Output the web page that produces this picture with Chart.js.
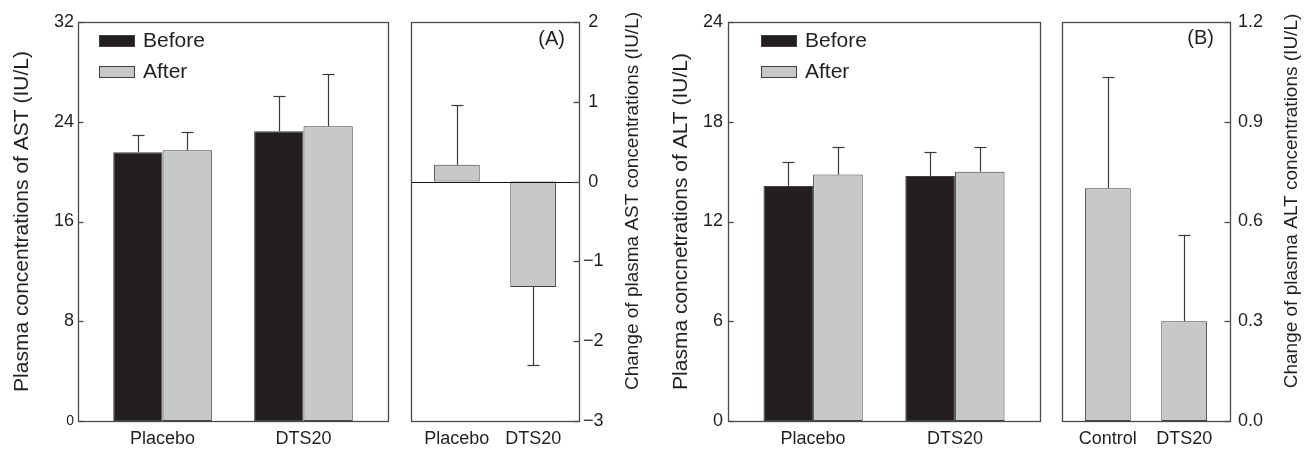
<!DOCTYPE html>
<html><head><meta charset="utf-8">
<script src="https://cdn.jsdelivr.net/npm/chart.js@4.4.1/dist/chart.umd.min.js"></script>
<style>
html,body{margin:0;padding:0;background:#fff;}
#wrap{position:relative;width:1305px;height:449px;overflow:hidden;background:#fff;}
canvas{position:absolute;top:0;}
</style></head><body>
<div id="wrap">
<canvas id="c1" width="395" height="449" style="left:0px;width:395px;height:449px"></canvas>
<canvas id="c2" width="255" height="449" style="left:395px;width:255px;height:449px"></canvas>
<canvas id="c3" width="395" height="449" style="left:650px;width:395px;height:449px"></canvas>
<canvas id="c4" width="260" height="449" style="left:1045px;width:260px;height:449px"></canvas>
</div>
<script>
// ---------- DATA ----------
const astCategories = ['Placebo', 'DTS20'];
const astBefore = [21.55, 23.23];
const astBeforeErr = [1.39, 2.84];
const astAfter = [21.71, 23.63];
const astAfterErr = [1.47, 4.23];
const astTicks = [0, 8, 16, 24, 32];

const astChangeCategories = ['Placebo', 'DTS20'];
const astChange = [0.21, -1.32];
const astChangeErr = [0.75, 0.98];
const astChangeTicks = [-3, -2, -1, 0, 1, 2];

const altCategories = ['Placebo', 'DTS20'];
const altBefore = [14.14, 14.74];
const altBeforeErr = [1.44, 1.46];
const altAfter = [14.82, 15.0];
const altAfterErr = [1.66, 1.5];
const altTicks = [0, 6, 12, 18, 24];

const altChangeCategories = ['Control', 'DTS20'];
const altChange = [0.70, 0.30];
const altChangeErr = [0.335, 0.26];
const altChangeTicks = [0, 0.3, 0.6, 0.9, 1.2];

const seriesNames = ['Before', 'After'];

// ---------- STYLE ----------
const FONT = "'Liberation Sans', Arial, Helvetica, sans-serif";
const TEXT = '#231f20';
const FRAME = '#4a4a4a';
const BEFORE_FILL = '#231f20';
const AFTER_FILL = '#c7c8ca';
const BAR_EDGE = '#404040';

// ---------- PLUGINS ----------
const panelPlugin = {
  id: 'panel',
  afterDatasetsDraw(chart, args, o) {
    const ctx = chart.ctx;
    const a = chart.chartArea;
    const ys = chart.scales.y;
    ctx.save();
    // zero line
    if (o.zeroLine) {
      const y0 = Math.round(ys.getPixelForValue(0)) + 0.5;
      ctx.strokeStyle = '#111';
      ctx.lineWidth = 1;
      ctx.beginPath(); ctx.moveTo(a.left, y0); ctx.lineTo(a.right, y0); ctx.stroke();
    }
    // error bars (one-sided, away from zero)
    chart.data.datasets.forEach((ds, i) => {
      if (!ds.errors) return;
      const meta = chart.getDatasetMeta(i);
      meta.data.forEach((el, j) => {
        const v = ds.data[j].y;
        const e = ds.errors[j];
        const end = v >= 0 ? v + e : v - e;
        const yA = ys.getPixelForValue(v);
        const yB = Math.round(ys.getPixelForValue(end)) + 0.5;
        const x = Math.round(el.x) + 0.5;
        ctx.strokeStyle = '#3a3a3a';
        ctx.lineWidth = 1.2;
        ctx.beginPath(); ctx.moveTo(x, yA); ctx.lineTo(x, yB); ctx.stroke();
        ctx.beginPath(); ctx.moveTo(x - 6, yB); ctx.lineTo(x + 6, yB); ctx.stroke();
      });
    });
    // frame
    ctx.strokeStyle = FRAME;
    ctx.lineWidth = 1.3;
    ctx.strokeRect(Math.round(a.left) + 0.5, Math.round(a.top) + 0.5, Math.round(a.right - a.left), Math.round(a.bottom - a.top));
    // inward ticks on value axis
    const right = ys.options.position === 'right';
    const ax = right ? Math.round(a.right) + 0.5 : Math.round(a.left) + 0.5;
    const len = o.tickLen || 5;
    ys.ticks.forEach(t => {
      const y = Math.round(ys.getPixelForValue(t.value)) + 0.5;
      ctx.beginPath();
      ctx.moveTo(ax, y);
      ctx.lineTo(right ? ax - len : ax + len, y);
      ctx.stroke();
    });
    // in-plot legend
    if (o.legend) {
      const L = o.legend;
      chart.data.datasets.forEach((ds, i) => {
        const bx = a.left + L.dx;
        const by = L.top + i * L.gap;
        ctx.fillStyle = ds.backgroundColor;
        ctx.fillRect(bx, by, 36, 12);
        ctx.strokeStyle = BAR_EDGE;
        ctx.lineWidth = 1;
        ctx.strokeRect(bx + 0.5, by + 0.5, 35, 11);
        ctx.fillStyle = TEXT;
        ctx.font = '21px ' + FONT;
        ctx.textAlign = 'left';
        ctx.textBaseline = 'middle';
        ctx.fillText(ds.label, bx + 44, by + 6);
      });
    }
    // panel tag
    if (o.tag) {
      ctx.fillStyle = TEXT;
      ctx.font = '20px ' + FONT;
      ctx.textAlign = 'right';
      ctx.textBaseline = 'middle';
      ctx.fillText(o.tag.text, a.right - o.tag.dx, o.tag.y);
    }
    // right-side axis title (reads bottom to top)
    if (o.rightTitle) {
      const R = o.rightTitle;
      ctx.save();
      ctx.translate(a.right + R.dx, R.cy);
      ctx.rotate(-Math.PI / 2);
      ctx.fillStyle = TEXT;
      ctx.font = R.size + 'px ' + FONT;
      ctx.textAlign = 'center';
      ctx.textBaseline = 'middle';
      ctx.fillText(R.text, 0, 0);
      ctx.restore();
    }
    ctx.restore();
  }
};

function toXY(vals) { return vals.map((v, i) => ({ x: i, y: v })); }

function makeChart(id, cfg) {
  const cats = cfg.categories;
  const yScale = {
    position: cfg.yPos,
    min: cfg.yTicks[0],
    max: cfg.yTicks[cfg.yTicks.length - 1],
    grid: { display: false, drawTicks: false, tickLength: 0 },
    border: { display: false },
    afterBuildTicks: s => { s.ticks = cfg.yTicks.map(v => ({ value: v })); },
    afterFit: s => { s.width = cfg.yWidth; },
    ticks: {
      color: TEXT,
      padding: cfg.yPad,
      crossAlign: cfg.crossAlign || 'near',
      font: cfg.yFont || { family: FONT, size: 18 },
      callback: cfg.yFmt
    },
    title: cfg.yTitle ? {
      display: true, text: cfg.yTitle, color: TEXT,
      font: { family: FONT, size: 21 },
      padding: { top: cfg.yTitlePad, bottom: 0 }
    } : { display: false }
  };
  return new Chart(document.getElementById(id), {
    type: 'bar',
    data: { datasets: cfg.datasets },
    options: {
      responsive: false,
      animation: false,
      events: [],
      layout: { padding: cfg.padding },
      plugins: { legend: { display: false }, tooltip: { enabled: false }, panel: cfg.panel },
      scales: {
        x: {
          type: 'linear', offset: false, min: -0.6, max: 1.6,
          grid: { display: false, drawTicks: false, tickLength: 0 }, border: { display: false },
          afterBuildTicks: s => { s.ticks = cats.map((c, i) => ({ value: i })); },
          afterFit: s => { s.height = 28; },
          ticks: { color: TEXT, padding: 7, autoSkip: false, maxRotation: 0,
                   font: { family: FONT, size: 18 }, callback: v => cats[v] }
        },
        y: yScale
      }
    },
    plugins: [panelPlugin]
  });
}

function barDs(label, vals, errs, fill, cp) {
  return { label, data: toXY(vals), errors: errs, backgroundColor: fill,
           borderColor: BAR_EDGE, borderWidth: 1, borderSkipped: false,
           categoryPercentage: cp, barPercentage: 1.0 };
}

// Panel 1: AST
makeChart('c1', {
  categories: astCategories,
  datasets: [barDs(seriesNames[0], astBefore, astBeforeErr, BEFORE_FILL, 0.70),
             barDs(seriesNames[1], astAfter, astAfterErr, AFTER_FILL, 0.70)],
  yTicks: astTicks, yPos: 'left', yWidth: 78, yPad: 4,
  yFont: c => ({ family: FONT, size: (c.tick && c.tick.value === 0) ? 14 : 18 }),
  yFmt: v => String(v),
  yTitle: 'Plasma concentrations of AST (IU/L)', yTitlePad: 10,
  padding: { left: 0, right: 7, top: 22, bottom: 0 },
  panel: { tickLen: 5, legend: { dx: 21, top: 35, gap: 31 } }
});

// Panel 2: change of AST
makeChart('c2', {
  categories: astChangeCategories,
  datasets: [barDs('Change', astChange, astChangeErr, AFTER_FILL, 0.60)],
  yTicks: astChangeTicks, yPos: 'right', yWidth: 71, yPad: 4, crossAlign: 'center',
  yFmt: v => (v < 0 ? '\u2212' + Math.abs(v) : String(v)),
  padding: { left: 16, right: 0, top: 22, bottom: 0 },
  panel: { tickLen: 6, zeroLine: true, tag: { text: '(A)', dx: 14, y: 39 },
           rightTitle: { text: 'Change of plasma AST concentrations (IU/L)', dx: 54, cy: 201, size: 19 } }
});

// Panel 3: ALT
makeChart('c3', {
  categories: altCategories,
  datasets: [barDs(seriesNames[0], altBefore, altBeforeErr, BEFORE_FILL, 0.70),
             barDs(seriesNames[1], altAfter, altAfterErr, AFTER_FILL, 0.70)],
  yTicks: altTicks, yPos: 'left', yWidth: 78, yPad: 5,
  yFmt: v => String(v),
  yTitle: 'Plasma concnetrations of ALT (IU/L)', yTitlePad: 19,
  padding: { left: 0, right: 5, top: 22, bottom: 0 },
  panel: { tickLen: 5, legend: { dx: 33, top: 35, gap: 31 } }
});

// Panel 4: change of ALT
makeChart('c4', {
  categories: altChangeCategories,
  datasets: [barDs('Change', altChange, altChangeErr, AFTER_FILL, 0.60)],
  yTicks: altChangeTicks, yPos: 'right', yWidth: 75, yPad: 8,
  yFmt: v => v.toFixed(1),
  padding: { left: 17, right: 0, top: 22, bottom: 0 },
  panel: { tickLen: 6, tag: { text: '(B)', dx: 16, y: 38 },
           rightTitle: { text: 'Change of plasma ALT concentrations (IU/L)', dx: 62, cy: 201, size: 19 } }
});
</script>
</body></html>
